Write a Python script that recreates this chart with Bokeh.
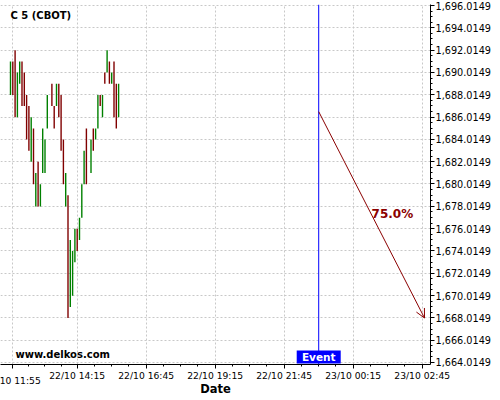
import pandas as pd
from bokeh.plotting import figure
from bokeh.models import (FixedTicker, DatetimeTickFormatter, Range1d, Arrow, OpenHead,
                          Label, ColumnDataSource, Span, NumeralTickFormatter)
from bokeh.embed import file_html
from bokeh.resources import INLINE

# ---------------- data ----------------
title_text = "C 5 (CBOT)"
watermark = "www.delkos.com"
day1 = "2020-10-22"
day2 = "2020-10-23"

bar_times = ["11:50", "11:55", "12:00", "12:05", "12:10", "12:15", "12:20", "12:25",
             "12:30", "12:35", "12:40", "12:45", "12:50", "12:55", "13:00", "13:05",
             "13:10", "13:20", "13:25", "13:30", "13:35", "13:40", "13:45", "13:50",
             "13:55", "14:00", "14:05", "14:10", "14:15", "14:20", "14:25", "14:30",
             "14:35", "14:45", "14:50", "14:55", "15:00", "15:05", "15:10", "15:15",
             "15:20", "15:25", "15:30", "15:35", "15:40", "15:45"]
opens = [1688, 1691, 1692, 1686, 1689, 1691, 1690, 1688,
         1687, 1682, 1685, 1678, 1682, 1678, 1681, 1681,
         1685, 1689, 1687, 1687, 1689, 1688, 1684, 1678,
         1679, 1669, 1670, 1673, 1676, 1675, 1677, 1680,
         1685, 1681, 1685, 1684, 1685, 1688, 1686, 1690,
         1690, 1691, 1689, 1691, 1689, 1686]
closes = [1691, 1688, 1686, 1690, 1691, 1687, 1687, 1684,
          1683, 1686, 1680, 1681, 1678, 1680, 1685, 1684,
          1688, 1687, 1685, 1689, 1686, 1683, 1680, 1681,
          1668, 1675, 1674, 1676, 1674, 1677, 1680, 1683,
          1680, 1684, 1683, 1685, 1688, 1687, 1688, 1689,
          1692, 1689, 1690, 1686, 1685, 1689]

x_tick_times = ["2020-10-22 11:55", "2020-10-22 14:15", "2020-10-22 16:45",
                "2020-10-22 19:15", "2020-10-22 21:45", "2020-10-23 00:15",
                "2020-10-23 02:45"]
first_tick_label = "22/10 11:55"
y_tick_values = [1664.0149, 1666.0149, 1668.0149, 1670.0149, 1672.0149, 1674.0149,
                 1676.0149, 1678.0149, 1680.0149, 1682.0149, 1684.0149, 1686.0149,
                 1688.0149, 1690.0149, 1692.0149, 1694.0149, 1696.0149]

event_time = "2020-10-22 23:00"
event_text = "Event"
arrow_start_time = "2020-10-22 23:00"
arrow_start_price = 1686.5
arrow_end_time = "2020-10-23 02:50"
arrow_end_price = 1668.0
probability_text = "75.0%"

x_view_start = "2020-10-22 11:28:16"
x_view_end = "2020-10-23 03:03:00"
y_view_start = 1663.8356
y_view_end = 1696.1045

# ---------------- helpers ----------------
def ms(ts):
    return (pd.Timestamp(ts) - pd.Timestamp("1970-01-01")) / pd.Timedelta(milliseconds=1)

UP = "#008000"
DOWN = "#800000"
ARROW = "#8b0000"
FONT = "DejaVu Sans"

t_ms = [ms(f"{day1} {t}") for t in bar_times]
colors = [UP if c >= o else DOWN for o, c in zip(opens, closes)]
src = ColumnDataSource(dict(t=t_ms, o=opens, c=closes, color=colors))

xr = Range1d(ms(x_view_start), ms(x_view_end))
yr = Range1d(y_view_start, y_view_end)

p = figure(frame_width=430, frame_height=360, x_range=xr, y_range=yr, x_axis_type="datetime",
           y_axis_location="right", output_backend="svg", toolbar_location=None,
           min_border_left=0, min_border_right=5, min_border_top=4, min_border_bottom=5)
p.outline_line_color = None
p.background_fill_color = "white"
p.border_fill_color = "white"

# ticks
xt = [ms(t) for t in x_tick_times]
step = (xt[2] - xt[1])
xminor = []
pts = [xt[0] - step] + xt + [xt[-1] + step]
for a, b in zip(pts[:-1], pts[1:]):
    for k in range(1, 4):
        xminor.append(a + (b - a) * k / 4)
p.xaxis.ticker = FixedTicker(ticks=xt, minor_ticks=xminor)
yminor = [y_tick_values[0] - 2 + 0.5 * k for k in range(0, 72)]
p.yaxis.ticker = FixedTicker(ticks=y_tick_values, minor_ticks=yminor)

fmt = "%d/%m %H:%M"
p.xaxis.formatter = DatetimeTickFormatter(
    microseconds=fmt, milliseconds=fmt, seconds=fmt, minsec=fmt, minutes=fmt,
    hourmin=fmt, hours=fmt, days=fmt, months=fmt, years=fmt)
# first label is drawn separately so that it runs off the left edge as in the original
p.xaxis.major_label_overrides = {xt[0]: " "}
p.yaxis.formatter = NumeralTickFormatter(format="0,0.0000")

for ax in (p.xaxis[0], p.yaxis[0]):
    ax.axis_line_color = "black"
    ax.major_tick_line_color = "black"
    ax.minor_tick_line_color = "black"
    ax.major_tick_in = 0
    ax.major_tick_out = 4
    ax.minor_tick_in = 0
    ax.minor_tick_out = 2
    ax.major_label_text_font = FONT
    ax.major_label_text_color = "black"

p.yaxis.major_label_text_font_size = "9.7px"
p.yaxis.major_label_standoff = 1
p.xaxis.major_label_text_font_size = "9.2px"
p.xaxis.major_label_standoff = 1
p.xaxis.axis_label = "Date"
p.xaxis.axis_label_text_font = FONT
p.xaxis.axis_label_text_font_style = "bold"
p.xaxis.axis_label_text_font_size = "11.5px"
p.xaxis.axis_label_standoff = -2
p.xaxis.axis_label_text_color = "black"

for g in (p.xgrid[0], p.ygrid[0]):
    g.grid_line_color = "#c8c8c8"
    g.grid_line_dash = "2 2"
    g.grid_line_width = 1

# candles
p.segment(x0="t", y0="o", x1="t", y1="c", line_color="color", line_width=1.4, source=src)

# event line
p.add_layout(Span(location=ms(event_time), dimension="height", line_color="#0000ff", line_width=1))

# arrow
ax0, ay0 = ms(arrow_start_time), arrow_start_price
ax1, ay1 = ms(arrow_end_time), arrow_end_price
p.add_layout(Arrow(end=OpenHead(size=9, line_color=ARROW, line_width=1),
                   x_start=ax0, y_start=ay0, x_end=ax1, y_end=ay1,
                   line_color=ARROW, line_width=1))
p.add_layout(Label(x=(ax0 + ax1) / 2, y=(ay0 + ay1) / 2, text=probability_text,
                   text_font=FONT, text_font_style="bold", text_font_size="12px",
                   text_color=ARROW, text_align="left", text_baseline="alphabetic",
                   y_offset=1))

# event tag at the bottom of the frame
ev_y = y_view_start + 7.5 * (y_view_end - y_view_start) / 360
p.rect(x=[ms(event_time)], y=[ev_y], width=44, height=13, width_units="screen",
       height_units="screen", fill_color="#0000ff", line_color=None)
p.add_layout(Label(x=ms(event_time), y=ev_y, text=event_text, text_font=FONT,
                   text_font_style="bold", text_font_size="10.5px", text_color="white",
                   text_align="center", text_baseline="middle"))

# first x tick label (partly outside the canvas, as in the original), in the bottom panel
first_lbl = Label(x=xt[0], y=29, y_units="screen", text=first_tick_label, text_font=FONT,
                  text_font_size="9.2px", text_color="black", text_align="center",
                  text_baseline="middle")
p.below.append(first_lbl)

# title and watermark
p.add_layout(Label(x=10, y=349, x_units="screen", y_units="screen", text=title_text,
                   text_font=FONT, text_font_style="bold", text_font_size="10px",
                   text_color="black", text_baseline="middle"))
p.add_layout(Label(x=15, y=10, x_units="screen", y_units="screen", text=watermark,
                   text_font=FONT, text_font_style="bold", text_font_size="10px",
                   text_color="black", text_baseline="middle"))

open("out.html", "w").write(file_html(p, INLINE))
